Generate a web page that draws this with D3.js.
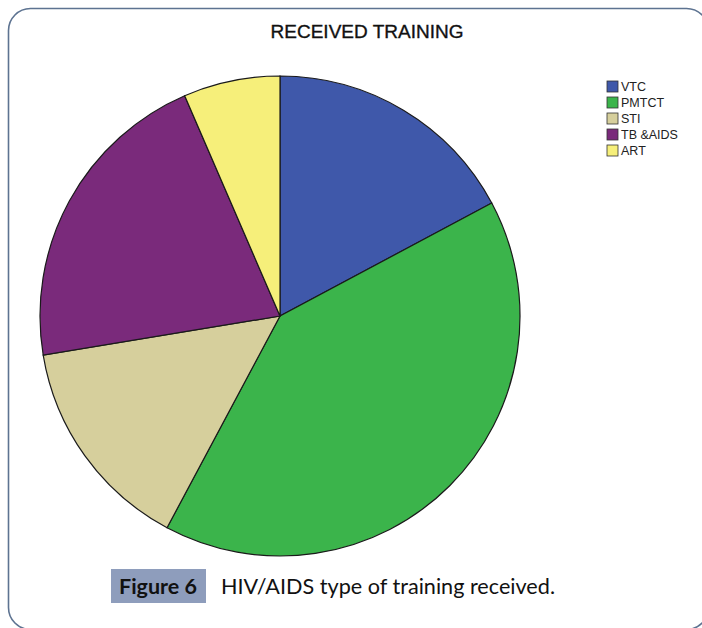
<!DOCTYPE html>
<html lang="en">
<head>
    <meta charset="UTF-8">
    <script src="https://d3js.org/d3.v7.min.js"></script>
    <title>Received training</title>
    <style>
        body {
            margin: 0;
            padding: 0;
            background: #fff;
        }
        svg {
            display: block;
        }
    </style>
</head>
<body>
<script>
    // training types and share of respondents (%)
    var categories = ['VTC', 'PMTCT', 'STI', 'TB &AIDS', 'ART']
    var values = [17.2, 40.6, 14.6, 21.1, 6.5]
    var colors = ['#3f58aa', '#3bb44b', '#d6cf9c', '#7a2a7b', '#f6ef7a']

    var width = 702, height = 628
    var svg = d3.select('body').append('svg')
        .attr('width', width)
        .attr('height', height)

    // frame with rounded corners
    svg.append('rect')
        .attr('x', 8.5).attr('y', 8.5)
        .attr('width', 700).attr('height', 621)
        .attr('rx', 22).attr('ry', 22)
        .attr('fill', 'none')
        .attr('stroke', '#5d7391')
        .attr('stroke-width', 1.6)

    svg.append('text')
        .attr('x', 367).attr('y', 38)
        .attr('text-anchor', 'middle')
        .attr('font-family', 'Liberation Sans, Arial, sans-serif')
        .attr('font-size', 19)
        .attr('fill', '#111')
        .attr('stroke', '#111')
        .attr('stroke-width', 0.35)
        .text('RECEIVED TRAINING')

    var data = categories.map(function (c, i) {
        return { name: c, value: values[i], color: colors[i] }
    })

    var pie = d3.pie().sort(null).value(function (d) { return d.value })
    var arc = d3.arc().innerRadius(0).outerRadius(240)

    var g = svg.append('g').attr('transform', 'translate(280,316)')
    g.selectAll('path')
        .data(pie(data))
        .enter()
        .append('path')
        .attr('d', arc)
        .attr('fill', function (d) { return d.data.color })
        .attr('stroke', '#1a1a1a')
        .attr('stroke-width', 1.2)

    // legend
    var legend = svg.append('g').attr('transform', 'translate(607,81)')
    var rows = legend.selectAll('g')
        .data(data)
        .enter()
        .append('g')
        .attr('transform', function (d, i) { return 'translate(0,' + (i * 16) + ')' })
    rows.append('rect')
        .attr('width', 11).attr('height', 11)
        .attr('fill', function (d) { return d.color })
        .attr('stroke', '#333')
        .attr('stroke-width', 0.8)
    rows.append('text')
        .attr('x', 14).attr('y', 10)
        .attr('font-family', 'Liberation Sans, Arial, sans-serif')
        .attr('font-size', 12.5)
        .attr('fill', '#222')
        .text(function (d) { return d.name })

    // caption
    svg.append('rect')
        .attr('x', 111).attr('y', 569)
        .attr('width', 95).attr('height', 34)
        .attr('fill', '#8e9dbc')
    svg.append('text')
        .attr('x', 119).attr('y', 594)
        .attr('font-family', 'Lato, sans-serif')
        .attr('font-weight', 'bold')
        .attr('font-size', 20)
        .attr('textLength', 78)
        .attr('lengthAdjust', 'spacingAndGlyphs')
        .attr('fill', '#111')
        .text('Figure 6')
    svg.append('text')
        .attr('x', 221).attr('y', 594)
        .attr('font-family', 'Lato, sans-serif')
        .attr('font-size', 20.5)
        .attr('textLength', 334)
        .attr('lengthAdjust', 'spacingAndGlyphs')
        .attr('fill', '#111')
        .text('HIV/AIDS type of training received.')
</script>
</body>
</html>
